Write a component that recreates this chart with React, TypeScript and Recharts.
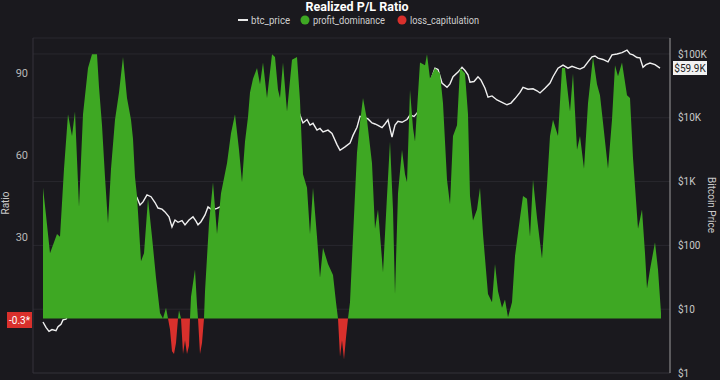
import { ComposedChart, Area, Line, XAxis, YAxis, CartesianGrid } from 'recharts'

// [decimal year, value] pairs
const btcPrice: [number, number][] = [
  [2012.0, 6.3], [2012.06, 5.2], [2012.12, 4.5], [2012.18, 4.8], [2012.26, 4.6], [2012.3, 5.3],
  [2012.36, 5.8], [2012.4, 6.8], [2012.46, 7], [2012.54, 9], [2012.64, 11], [2012.74, 12],
  [2012.84, 12], [2012.94, 13], [2013.04, 20], [2013.14, 45], [2013.2, 100], [2013.28, 110],
  [2013.38, 120], [2013.48, 100], [2013.58, 120], [2013.68, 200], [2013.76, 700], [2013.82, 650],
  [2013.84, 620], [2013.88, 560], [2013.94, 430], [2014.0, 480], [2014.08, 620], [2014.16, 580],
  [2014.24, 470], [2014.3, 385], [2014.38, 370], [2014.44, 335], [2014.52, 280], [2014.58, 195],
  [2014.64, 250], [2014.7, 230], [2014.78, 245], [2014.84, 210], [2014.92, 250], [2015.0, 280],
  [2015.06, 240], [2015.1, 210], [2015.16, 235], [2015.24, 300], [2015.3, 400], [2015.38, 360],
  [2015.48, 380], [2015.54, 400], [2015.6, 430], [2015.74, 420], [2015.94, 430], [2016.14, 450],
  [2016.34, 600], [2016.54, 700], [2016.74, 1000], [2016.9, 2500], [2017.0, 6000], [2017.08, 15000],
  [2017.14, 11000], [2017.2, 8300], [2017.28, 9400], [2017.34, 7700], [2017.4, 8200], [2017.48, 6400],
  [2017.54, 6800], [2017.6, 6000], [2017.7, 6400], [2017.78, 5700], [2017.88, 3800], [2017.94, 3100],
  [2018.04, 3500], [2018.14, 4000], [2018.2, 5300], [2018.28, 7100], [2018.34, 10500], [2018.44, 10000],
  [2018.5, 9600], [2018.58, 8300], [2018.64, 8000], [2018.7, 7600], [2018.78, 7000], [2018.84, 8000],
  [2018.9, 9300], [2018.98, 5000], [2019.04, 7700], [2019.1, 8800], [2019.18, 8500], [2019.28, 9400],
  [2019.34, 11000], [2019.42, 10500], [2019.48, 11800], [2019.58, 16000], [2019.68, 30000],
  [2019.78, 44000], [2019.84, 60000], [2019.9, 57000], [2019.98, 35000], [2020.08, 30000],
  [2020.14, 34000], [2020.2, 44000], [2020.3, 52000], [2020.38, 62000], [2020.44, 55000],
  [2020.5, 47000], [2020.54, 36000], [2020.62, 37000], [2020.7, 44000], [2020.76, 39000],
  [2020.84, 29000], [2020.9, 21000], [2020.98, 22000], [2021.08, 19000], [2021.18, 17500],
  [2021.28, 16000], [2021.36, 17000], [2021.44, 20000], [2021.54, 25000], [2021.6, 30000],
  [2021.7, 28000], [2021.8, 28500], [2021.88, 26500], [2021.94, 24500], [2022.04, 29000],
  [2022.14, 35000], [2022.2, 44000], [2022.3, 60000], [2022.4, 67000], [2022.5, 60000],
  [2022.58, 64000], [2022.68, 60000], [2022.74, 58000], [2022.82, 62000], [2022.9, 75000],
  [2022.98, 90000], [2023.04, 93000], [2023.1, 86000], [2023.2, 82000], [2023.3, 75000],
  [2023.38, 97000], [2023.48, 100000], [2023.58, 105000], [2023.68, 115000], [2023.74, 100000],
  [2023.8, 97000], [2023.88, 88000], [2023.94, 87000], [2024.0, 62000], [2024.06, 68000],
  [2024.14, 72000], [2024.24, 68000], [2024.34, 60000],
]

const profitDominance: [number, number][] = [
  [2012.0, 48], [2012.06, 38], [2012.14, 24], [2012.2, 27], [2012.28, 31], [2012.34, 30],
  [2012.42, 55], [2012.5, 75], [2012.58, 67], [2012.64, 76], [2012.72, 41], [2012.8, 75],
  [2012.9, 92], [2012.98, 97], [2013.08, 97], [2013.12, 85], [2013.18, 71], [2013.24, 52],
  [2013.3, 35], [2013.36, 55], [2013.44, 73], [2013.52, 83], [2013.6, 96], [2013.68, 81],
  [2013.76, 73], [2013.8, 66], [2013.84, 52], [2013.88, 45], [2013.96, 21], [2014.02, 24],
  [2014.1, 44], [2014.18, 30], [2014.26, 15], [2014.34, 2], [2014.4, 0], [2014.46, 4],
  [2014.5, 0], [2014.7, 0], [2014.72, 3], [2014.76, 0], [2014.94, 0], [2014.96, 8],
  [2015.04, 18], [2015.08, 5], [2015.1, 0], [2015.22, 0], [2015.24, 10], [2015.32, 35],
  [2015.4, 50], [2015.48, 31], [2015.56, 46], [2015.68, 57], [2015.76, 68], [2015.84, 75],
  [2015.92, 62], [2015.98, 50], [2016.04, 65], [2016.1, 74], [2016.14, 83], [2016.2, 88],
  [2016.28, 92], [2016.34, 86], [2016.4, 94], [2016.48, 81], [2016.58, 97], [2016.64, 96],
  [2016.7, 84], [2016.74, 81], [2016.8, 94], [2016.88, 76], [2016.98, 95], [2017.08, 96],
  [2017.14, 80], [2017.2, 53], [2017.28, 48], [2017.34, 31], [2017.4, 48], [2017.48, 30],
  [2017.54, 15], [2017.6, 26], [2017.7, 20], [2017.8, 16], [2017.86, 6], [2017.9, 0],
  [2018.1, 0], [2018.14, 6], [2018.2, 30], [2018.28, 61], [2018.34, 72], [2018.4, 81],
  [2018.48, 73], [2018.58, 57], [2018.64, 33], [2018.7, 40], [2018.8, 17], [2018.88, 45],
  [2018.94, 65], [2019.0, 40], [2019.04, 9], [2019.1, 46], [2019.18, 62], [2019.24, 53],
  [2019.28, 50], [2019.34, 84], [2019.4, 70], [2019.44, 65], [2019.54, 94], [2019.64, 93],
  [2019.68, 97], [2019.74, 88], [2019.84, 92], [2019.94, 90], [2020.0, 79], [2020.08, 51],
  [2020.14, 42], [2020.2, 67], [2020.28, 71], [2020.34, 92], [2020.44, 90], [2020.5, 75],
  [2020.54, 45], [2020.6, 36], [2020.68, 40], [2020.74, 48], [2020.8, 31], [2020.9, 9],
  [2020.98, 6], [2021.04, 20], [2021.1, 10], [2021.18, 4], [2021.24, 7], [2021.3, 0.5],
  [2021.38, 6], [2021.44, 23], [2021.54, 37], [2021.6, 45], [2021.68, 44], [2021.74, 30],
  [2021.8, 51], [2021.88, 37], [2021.98, 22], [2022.08, 49], [2022.14, 67], [2022.2, 73],
  [2022.3, 67], [2022.38, 92], [2022.44, 92], [2022.54, 76], [2022.6, 90], [2022.68, 62],
  [2022.74, 67], [2022.82, 55], [2022.9, 79], [2023.0, 96], [2023.08, 86], [2023.14, 82],
  [2023.2, 72], [2023.3, 55], [2023.38, 73], [2023.44, 93], [2023.5, 89], [2023.58, 94],
  [2023.68, 82], [2023.74, 81], [2023.8, 59], [2023.9, 33], [2023.98, 40], [2024.04, 24],
  [2024.08, 11], [2024.14, 18], [2024.24, 28], [2024.3, 18], [2024.36, 2],
]

const lossCapitulation: [number, number][] = [
  [2014.5, 0], [2014.54, -4], [2014.58, -12], [2014.62, -13], [2014.66, -9], [2014.7, 0],
  [2014.76, 0], [2014.8, -13], [2014.84, -8], [2014.88, -13], [2014.92, -10], [2014.94, 0],
  [2015.1, 0], [2015.14, -13], [2015.18, -9], [2015.22, 0],
  [2017.9, 0], [2017.94, -14], [2017.98, -8], [2018.02, -15], [2018.06, -7], [2018.1, 0],
]

const ratioTicks = [30, 60, 90]
const priceTicks = [1, 10, 100, 1000, 10000, 100000]

const priceData = btcPrice.map(([t, v]) => ({ t, btc_price: v }))
const profitData = profitDominance.map(([t, v]) => ({ t, profit_dominance: v }))
const lossData = lossCapitulation.map(([t, v]) => ({ t, loss_capitulation: v }))

const BG = '#1a191e'
const GREEN = '#3ea823'
const RED = '#d9302c'
const FONT = 'Roboto, "Noto Sans", sans-serif'
const MARGIN = { top: 38, right: 0, bottom: 6, left: 0 }
const X_DOMAIN: [number, number] = [2011.8, 2024.54]

function formatPrice(v: number) {
  return v >= 1000 ? `$${v / 1000}K` : `$${v}`
}

// two stacked charts with the same layout, so the price line sits under the areas
function PriceLayer() {
  return (
    <ComposedChart width={720} height={380} margin={MARGIN}>
      <CartesianGrid yAxisId="price" vertical={false} stroke="#29282e" />
      <XAxis
        type="number"
        dataKey="t"
        domain={X_DOMAIN}
        allowDataOverflow
        height={1}
        tick={false}
        tickLine={false}
        axisLine={{ stroke: '#2c2b31' }}
      />
      <YAxis
        yAxisId="ratio"
        domain={[-20, 103]}
        ticks={ratioTicks}
        allowDataOverflow
        width={33}
        tickSize={3}
        tickLine={false}
        axisLine={{ stroke: '#34333a' }}
        tick={{ fill: '#b8b8b8', fontSize: 11, fontFamily: FONT }}
      />
      <YAxis
        yAxisId="price"
        orientation="right"
        scale="log"
        domain={[1, 178000]}
        ticks={priceTicks}
        allowDataOverflow
        width={50}
        tickLine={false}
        axisLine={{ stroke: '#9c9c9c' }}
        tickFormatter={formatPrice}
        tick={{ fill: '#c8c8c8', fontSize: 10, fontFamily: FONT, textAnchor: 'start' }}
      />
      <Line
        yAxisId="price"
        data={priceData}
        dataKey="btc_price"
        type="linear"
        stroke="#f0f0f0"
        strokeWidth={1.4}
        dot={false}
        isAnimationActive={false}
      />
    </ComposedChart>
  )
}

function RatioLayer() {
  return (
    <ComposedChart width={720} height={380} margin={MARGIN}>
      <XAxis type="number" dataKey="t" domain={X_DOMAIN} allowDataOverflow height={1} tick={false} tickLine={false} axisLine={false} />
      <YAxis yAxisId="ratio" domain={[-20, 103]} allowDataOverflow width={33} tick={false} tickLine={false} axisLine={false} />
      <YAxis yAxisId="right" orientation="right" width={50} tick={false} tickLine={false} axisLine={false} />
      <Area
        yAxisId="ratio"
        data={profitData}
        dataKey="profit_dominance"
        type="linear"
        baseValue={0}
        stroke="none"
        fill={GREEN}
        fillOpacity={1}
        isAnimationActive={false}
      />
      <Area
        yAxisId="ratio"
        data={lossData}
        dataKey="loss_capitulation"
        type="linear"
        baseValue={0}
        stroke="none"
        fill={RED}
        fillOpacity={1}
        isAnimationActive={false}
      />
    </ComposedChart>
  )
}

export default function App() {
  return (
    <div style={{ position: 'fixed', left: 0, top: 0, width: 720, height: 380, background: BG, fontFamily: FONT }}>
      <div style={{ position: 'absolute', left: 0, top: 0 }}>
        <PriceLayer />
      </div>
      <div style={{ position: 'absolute', left: 0, top: 0 }}>
        <RatioLayer />
      </div>
      <svg
        width={720}
        height={380}
        style={{ position: 'absolute', left: 0, top: 0, pointerEvents: 'none' }}
        fontFamily={FONT}
      >
        <text x={357} y={11} textAnchor="middle" fill="#ffffff" fontSize={12.5} fontWeight={700}>
          Realized P/L Ratio
        </text>
        <line x1={238} x2={248} y1={20} y2={20} stroke="#e8e8e8" strokeWidth={2} />
        <text x={251} y={24} fill="#cfcfcf" fontSize={10.5} textLength={39} lengthAdjust="spacingAndGlyphs">
          btc_price
        </text>
        <circle cx={305} cy={20} r={4.5} fill={GREEN} />
        <text x={313} y={24} fill="#cfcfcf" fontSize={10.5} textLength={72} lengthAdjust="spacingAndGlyphs">
          profit_dominance
        </text>
        <circle cx={402} cy={20} r={4.5} fill={RED} />
        <text x={410} y={24} fill="#cfcfcf" fontSize={10.5} textLength={69} lengthAdjust="spacingAndGlyphs">
          loss_capitulation
        </text>
        <text x={0} y={0} transform="translate(9,203) rotate(-90)" textAnchor="middle" fill="#c8c8c8" fontSize={10}>
          Ratio
        </text>
        <text x={0} y={0} transform="translate(708,205) rotate(90)" textAnchor="middle" fill="#c8c8c8" fontSize={10}>
          Bitcoin Price
        </text>
        <rect x={7} y={312} width={25} height={16} fill={RED} />
        <text x={19.5} y={323.5} textAnchor="middle" fill="#ffffff" fontSize={10}>
          -0.3*
        </text>
        <rect x={673} y={61} width={34} height={14} fill="#f2f2f2" />
        <text x={690} y={71.5} textAnchor="middle" fill="#1c1c1c" fontSize={10}>
          $59.9K
        </text>
      </svg>
    </div>
  )
}
